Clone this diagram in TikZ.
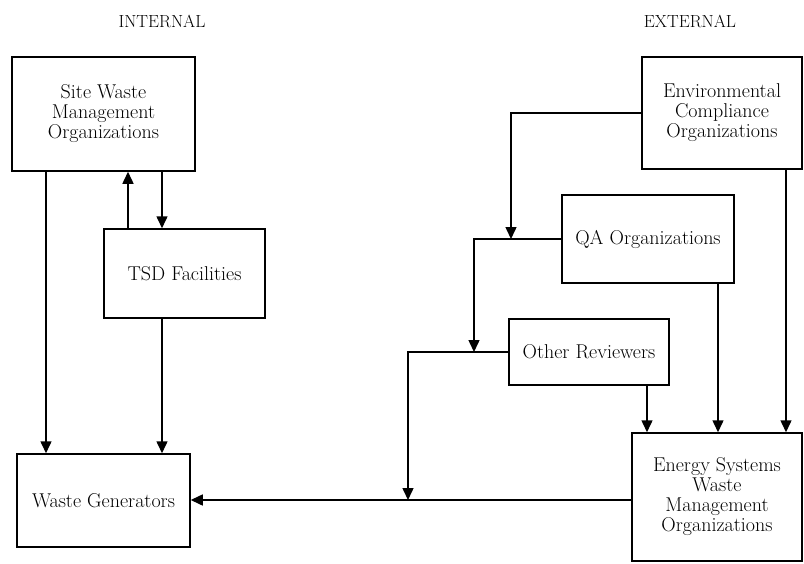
\documentclass[tikz,border=0pt]{standalone}
\usetikzlibrary{arrows.meta}

\begin{document}
\begin{tikzpicture}[x=1pt,y=-1pt,
  box/.style={draw,line width=1.5pt,align=center,font=\fontsize{20}{20}\selectfont},
  arr/.style={line width=1.5pt,-{Triangle[length=12pt,width=11pt]}},
  head/.style={font=\fontsize{17.5}{18}\selectfont}]
\useasboundingbox (0,0) rectangle (804,563);

\node[head] (int) at (162,21) {INTERNAL};
\node[head] (ext) at (690,21) {EXTERNAL};

\node[box,minimum width=183pt,minimum height=114pt] (site) at (103.5,114) {Site Waste\\Management\\Organizations};
\node[box,minimum width=161pt,minimum height=89pt] (tsd) at (184.5,273.5) {TSD Facilities};
\node[box,minimum width=173pt,minimum height=93pt] (gen) at (103.5,500.5) {Waste Generators};

\node[box,minimum width=160pt,minimum height=112pt] (env) at (722,113) {Environmental\\Compliance\\Organizations};
\node[box,minimum width=172pt,minimum height=88pt] (qa) at (648,239) {QA Organizations};
\node[box,minimum width=160pt,minimum height=66pt] (other) at (589,352) {Other Reviewers};
\node[box,minimum width=170pt,minimum height=128pt] (esw) at (717,497) {Energy Systems\\Waste\\Management\\Organizations};

\coordinate (c1) at (46,0);
\coordinate (c2) at (128,0);
\coordinate (c3) at (162,0);
\coordinate (c4) at (647,0);
\coordinate (c5) at (718,0);
\coordinate (c6) at (786,0);
\coordinate (jq) at (511,239);
\coordinate (jo) at (474,352);
\coordinate (jg) at (408,500);

\draw[arr] (site.south -| c1) -- (gen.north -| c1);
\draw[arr] (tsd.north -| c2) -- (site.south -| c2);
\draw[arr] (site.south -| c3) -- (tsd.north -| c3);
\draw[arr] (tsd.south -| c3) -- (gen.north -| c3);
\draw[arr] (esw.west |- jg) -- (gen.east |- jg);

\draw[arr] (env.west) -| (jq);
\draw[arr] (qa.west) -| (jo);
\draw[arr] (other.west) -| (jg);
\draw[arr] (other.south -| c4) -- (esw.north -| c4);
\draw[arr] (qa.south -| c5) -- (esw.north -| c5);
\draw[arr] (env.south -| c6) -- (esw.north -| c6);
\end{tikzpicture}
\end{document}
